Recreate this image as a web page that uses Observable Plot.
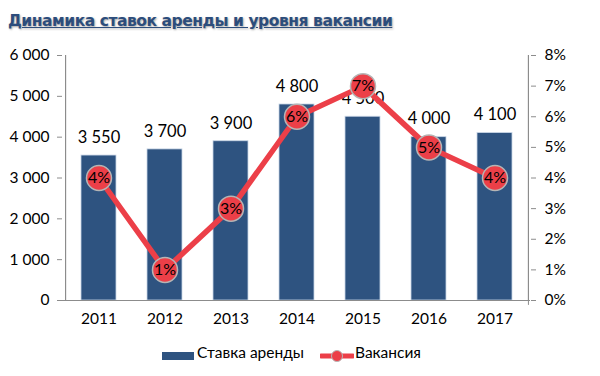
<!DOCTYPE html>
<html><head><meta charset="utf-8">
<script src="https://cdn.jsdelivr.net/npm/d3@7"></script>
<script src="https://cdn.jsdelivr.net/npm/@observablehq/plot@0.6"></script>
<style>
body{margin:0;background:#fff;width:600px;height:376px;overflow:hidden;font-family:Lato,"Open Sans",sans-serif;}
#title{height:40px;box-sizing:border-box;padding:12px 0 0 8px;font-family:"DejaVu Sans",sans-serif;font-weight:bold;font-size:15.5px;color:#2c4d7c;text-decoration:underline;text-shadow:1px 1px 2px rgba(0,0,0,0.35);letter-spacing:-0.45px;}
#legend{position:absolute;top:343px;left:0;width:600px;font-size:15.5px;color:#000;}
#legend span{position:absolute;top:0;}
svg{display:block}
</style></head><body>
<div id="title">Динамика ставок аренды и уровня вакансии</div>
<div id="chart"></div>
<div id="legend"></div>
<script>
const years = ["2011","2012","2013","2014","2015","2016","2017"];
const rent = [3550, 3700, 3900, 4800, 4500, 4000, 4100];
const vacancy = [4, 1, 3, 6, 7, 5, 4];
const leftTicks = [0, 1000, 2000, 3000, 4000, 5000, 6000];
const rightTicks = [0, 1, 2, 3, 4, 5, 6, 7, 8];
const seriesNames = ["Ставка аренды", "Вакансия"];

const barColor = "#2e5380";
const lineColor = "#ec3f48";
const axisColor = "#8c8c8c";
const ratio = 6000 / 8;
const data = years.map((y, i) => ({year: y, rent: rent[i], vac: vacancy[i]}));
const fmt = d => d3.format(",")(d).replace(/,/g, "\u00a0");

const W = 600, mL = 62, mR = 70;
const step = (W - mL - mR) / years.length;

const plot = Plot.plot({
  width: W, height: 300,
  marginLeft: mL, marginRight: mR, marginTop: 15, marginBottom: 40,
  style: {fontFamily: "Lato, 'Open Sans', sans-serif", fontSize: "15px", color: "#000", background: "#fff"},
  x: {domain: years, paddingInner: 0.47, paddingOuter: 0.235},
  y: {domain: [0, 6000]},
  marks: [
    Plot.barY(data, {x: "year", y: "rent", fill: barColor, stroke: "#c9d6e6", strokeWidth: 0.8}),
    Plot.text(data, {x: "year", y: "rent", text: d => fmt(d.rent), dy: -18, fontSize: 16.5}),
    Plot.ruleY([0], {stroke: axisColor, strokeWidth: 1.2}),
    Plot.ruleX(years, {x: "year", dx: -step / 2, y1: 0, y2: -120, stroke: axisColor}),
    Plot.ruleX([years[years.length - 1]], {x: d => d, dx: step / 2, y1: 0, y2: -120, stroke: axisColor}),
    Plot.axisX({tickSize: 0, tickPadding: 12, fontSize: 15.5, label: null}),
    Plot.axisY({ticks: leftTicks, tickFormat: fmt, tickSize: 5, tickPadding: 8, stroke: axisColor, label: null, fontSize: 15.5}),
    Plot.axisY({anchor: "right", ticks: rightTicks.map(v => v * ratio), tickFormat: d => Math.round(d / ratio) + "%", tickSize: 5, tickPadding: 9, stroke: axisColor, label: null, fontSize: 15.5}),
    Plot.ruleX([0], {x: () => years[0], dx: -step / 2, y1: 0, y2: 6000, stroke: axisColor, strokeWidth: 1.2}),
    Plot.ruleX([0], {x: () => years[years.length - 1], dx: step / 2, y1: 0, y2: 6000, stroke: axisColor, strokeWidth: 1.2}),
    Plot.line(data, {x: "year", y: d => d.vac * ratio, stroke: lineColor, strokeWidth: 5.5}),
    Plot.dot(data, {x: "year", y: d => d.vac * ratio, r: 12.5, fill: lineColor, stroke: "#b5b5b5", strokeWidth: 1.5}),
    Plot.text(data, {x: "year", y: d => d.vac * ratio, text: d => d.vac + "%", fontSize: 16, fill: "#000"})
  ]
});
document.getElementById("chart").appendChild(plot);

const legend = document.getElementById("legend");
legend.innerHTML =
  `<span style="left:162px;top:9px"><svg width="32" height="8"><rect width="32" height="8" fill="${barColor}"/></svg></span>` +
  `<span style="left:197px">${seriesNames[0]}</span>` +
  `<span style="left:320px;top:4px"><svg width="34" height="18"><line x1="1" x2="33" y1="9" y2="9" stroke="${lineColor}" stroke-width="5" stroke-linecap="round"/><circle cx="17" cy="9" r="5.5" fill="${lineColor}" stroke="#b5b5b5"/></svg></span>` +
  `<span style="left:355px">${seriesNames[1]}</span>`;
</script>
</body></html>
